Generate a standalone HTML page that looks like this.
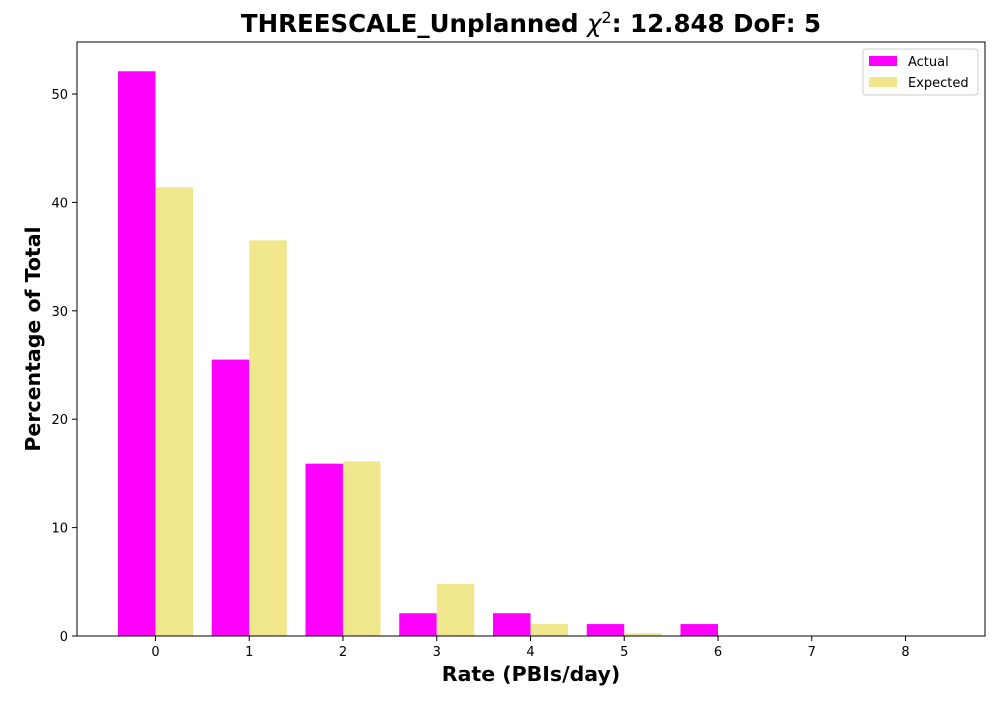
<!DOCTYPE html>
<html><head><meta charset="utf-8"><style>
body{margin:0;background:#fff;font-family:"Liberation Sans","DejaVu Sans",sans-serif;}
</style></head><body>
<svg id="chart" width="1000" height="700" xmlns="http://www.w3.org/2000/svg">
<text x="531" y="32" text-anchor="middle" font-size="24.5" font-weight="bold" font-family="DejaVu Sans, sans-serif">THREESCALE_Unplanned <tspan font-style="italic" font-weight="normal">χ</tspan><tspan font-size="16" dy="-9" font-weight="normal">2</tspan><tspan dy="9">: 12.848 DoF: 5</tspan></text>
<g id="bars"></g>
<g id="axes"></g>
<text x="531" y="681" text-anchor="middle" font-size="20.5" font-weight="bold" font-family="DejaVu Sans, sans-serif">Rate (PBIs/day)</text>
<text transform="translate(40,339) rotate(-90)" text-anchor="middle" font-size="20.5" font-weight="bold" font-family="DejaVu Sans, sans-serif">Percentage of Total</text>
<g>
<rect x="863" y="49" width="115" height="46" fill="#fff" stroke="#ccc" rx="3"/>
<rect x="869" y="56" width="28" height="10" fill="#ff00ff"/>
<text x="908" y="66" font-size="13" font-family="DejaVu Sans, sans-serif">Actual</text>
<rect x="869" y="77" width="28" height="10" fill="#f0e68c"/>
<text x="908" y="87" font-size="13" font-family="DejaVu Sans, sans-serif">Expected</text>
</g>
</svg>
<script>
const categories=[0,1,2,3,4,5,6,7,8];
const actualValues=[52.1,25.5,15.9,2.1,2.1,1.1,1.1,0,0];
const expectedValues=[41.4,36.5,16.1,4.8,1.1,0.25,0.05,0,0];
const yTicks=[0,10,20,30,40,50];
const NS="http://www.w3.org/2000/svg";
const L=77,R=985,T=42,B=636;
const xMin=-0.837,xMax=8.848,yMax=54.8;
const xs=v=>L+(v-xMin)/(xMax-xMin)*(R-L);
const ys=v=>B-v/yMax*(B-T);
function mk(tag,attrs,parent){const e=document.createElementNS(NS,tag);for(const k in attrs)e.setAttribute(k,attrs[k]);parent.appendChild(e);return e;}
const bars=document.getElementById('bars'),axes=document.getElementById('axes');
const w=xs(0.4)-xs(0);
categories.forEach((c,i)=>{
 const a=mk('rect',{x:xs(c-0.4),y:ys(actualValues[i]),width:w,height:B-ys(actualValues[i]),fill:'#ff00ff'},bars);
 
 
 const e=mk('rect',{x:xs(c),y:ys(expectedValues[i]),width:w,height:B-ys(expectedValues[i]),fill:'#f0e68c'},bars);
 
 
 mk('line',{x1:xs(c),x2:xs(c),y1:B,y2:B+5,stroke:'#000'},axes);
 const t=mk('text',{x:xs(c),y:B+20,'text-anchor':'middle','font-size':13,'font-family':'DejaVu Sans, sans-serif'},axes);
 t.textContent=c;
 
 
});
yTicks.forEach(v=>{
 mk('line',{x1:L-5,x2:L,y1:ys(v),y2:ys(v),stroke:'#000'},axes);
 const t=mk('text',{x:L-9,y:ys(v)+5,'text-anchor':'end','font-size':13,'font-family':'DejaVu Sans, sans-serif'},axes);
 t.textContent=v;
 
 
});
const f=mk('rect',{x:L,y:T,width:R-L,height:B-T,fill:'none',stroke:'#000','stroke-width':1},axes);


</script>
</body></html>
